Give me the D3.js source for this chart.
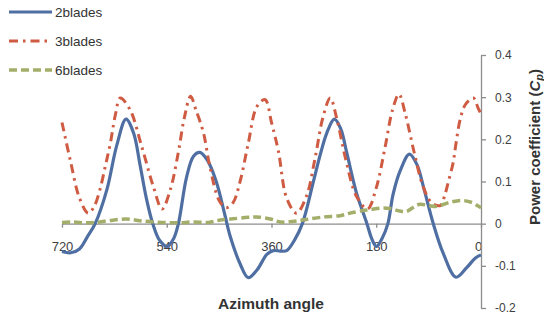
<!DOCTYPE html>
<html>
<head>
<meta charset="utf-8">
<script src="https://cdn.jsdelivr.net/npm/d3@7"></script>
<style>
  html, body { margin: 0; padding: 0; background: #ffffff; }
  svg { display: block; }
  text { font-family: "Liberation Sans", Arial, sans-serif; }
</style>
</head>
<body>
<svg id="chart" width="544" height="325"></svg>
<script>
// ---- data ----
const seriesNames = ["2blades", "3blades", "6blades"];
const xTicks = [720, 540, 360, 180, 0];
const yTicks = [-0.2, -0.1, 0, 0.1, 0.2, 0.3, 0.4];

const angles2 = [720,705,690,676,663,643,626,610,597,586,575,564,552,539,528,520,506,494,483,470,455,440,431,414,400,385,368,357,345,334,320,307,288,276,265,252,241,231,214,196,188,180,170,160,151,139,123,110,99,82,65,43,25,10,0];
const cp2 =     [-0.066,-0.069,-0.06,-0.03,0,0.08,0.185,0.248,0.215,0.14,0.06,0,-0.04,-0.054,-0.035,0,0.11,0.16,0.169,0.15,0.1,0.02,-0.03,-0.095,-0.128,-0.11,-0.073,-0.064,-0.065,-0.064,-0.038,0,0.1,0.165,0.215,0.248,0.225,0.17,0.073,0,-0.035,-0.054,-0.035,0,0.07,0.125,0.165,0.14,0.088,0,-0.07,-0.127,-0.105,-0.082,-0.074];

const angles3 = [720,706,690,675,665,655,645,637,628,620,603,583,563,548,534,520,510,499,490,477,466,450,438,426,414,400,385,371,360,348,334,317,300,285,272,259,248,232,214,195,180,165,152,141,130,115,100,85,70,62,56,48,43,36,27,13,5,0];
const cp3 =     [0.24,0.152,0.061,0.025,0.04,0.08,0.14,0.19,0.26,0.298,0.27,0.183,0.088,0.035,0.08,0.17,0.25,0.302,0.27,0.216,0.136,0.055,0.038,0.05,0.1,0.19,0.278,0.294,0.24,0.171,0.061,0.025,0.065,0.156,0.25,0.298,0.25,0.15,0.065,0.035,0.085,0.18,0.27,0.307,0.26,0.17,0.09,0.05,0.043,0.069,0.1,0.144,0.19,0.246,0.282,0.298,0.274,0.26];

const angles6 = [720,700,680,662,640,610,580,548,520,495,468,450,430,400,385,362,345,320,300,270,242,225,203,191,172,156,140,128,115,105,90,76,55,33,15,5,0];
const cp6 =     [0.003,0.004,0.002,0.003,0.007,0.011,0.006,0.003,0.002,0.004,0.003,0.008,0.011,0.015,0.016,0.011,0.004,0.006,0.01,0.016,0.019,0.025,0.031,0.033,0.037,0.036,0.03,0.029,0.04,0.046,0.043,0.041,0.05,0.055,0.05,0.042,0.038];

// ---- layout ----
const svg = d3.select("#chart");
const x = d3.scaleLinear().domain([720, 0]).range([62, 481]);
const y = d3.scaleLinear().domain([-0.2, 0.4]).range([308, 55]);
const axisColor = "#8c8c8c";
const labelColor = "#404040";

const styles = [
  { color: "#4f6fa3", width: 3.2, dash: null },
  { color: "#cf5b43", width: 3, dash: "9,5,2.5,5" },
  { color: "#a4ae6a", width: 3.5, dash: "8,4" }
];

// x axis (at y = 0)
const xAxis = svg.append("g")
  .attr("transform", `translate(0,${y(0)})`)
  .call(d3.axisBottom(x).tickValues(xTicks).tickSize(4).tickSizeOuter(0).tickFormat(d3.format("d")));
xAxis.select(".domain").attr("stroke", axisColor).attr("stroke-width", 1.3);
xAxis.selectAll(".tick line").attr("stroke", axisColor).attr("stroke-width", 1.3);
xAxis.selectAll(".tick text").attr("y", 18).attr("dy", "0.71em")
  .attr("fill", labelColor).style("font-size", "13px").style("font-family", "Liberation Sans, Arial, sans-serif");
xAxis.selectAll(".tick text").filter(d => d === 0).attr("dx", -3);

// y axis (right)
const fmtY = d => d === 0 ? "0" : d3.format(".1f")(d).replace("\u2212", "-");
const yAxis = svg.append("g")
  .attr("transform", `translate(481,0)`)
  .call(d3.axisRight(y).tickValues(yTicks).tickSize(5).tickSizeOuter(0).tickFormat(fmtY));
yAxis.select(".domain").attr("stroke", axisColor).attr("stroke-width", 1.3);
yAxis.selectAll(".tick line").attr("stroke", axisColor).attr("stroke-width", 1.3);
yAxis.selectAll(".tick text").attr("x", 14)
  .attr("fill", labelColor).style("font-size", "12px").style("font-family", "Liberation Sans, Arial, sans-serif");

// series
const seriesData = [
  angles2.map((a, i) => [a, cp2[i]]),
  angles3.map((a, i) => [a, cp3[i]]),
  angles6.map((a, i) => [a, cp6[i]])
];
const line = d3.line().x(d => x(d[0])).y(d => y(d[1])).curve(d3.curveCatmullRom.alpha(0.5));

seriesData.forEach((data, i) => {
  svg.append("path")
    .datum(data)
    .attr("fill", "none")
    .attr("stroke", styles[i].color)
    .attr("stroke-width", styles[i].width)
    .attr("stroke-dasharray", styles[i].dash)
    .attr("d", line);
});

// legend
const legend = svg.append("g");
seriesNames.forEach((name, i) => {
  const ly = 12 + i * 29;
  legend.append("line")
    .attr("x1", 9).attr("x2", 52).attr("y1", ly).attr("y2", ly)
    .attr("stroke", styles[i].color)
    .attr("stroke-width", styles[i].width)
    .attr("stroke-dasharray", styles[i].dash);
  legend.append("text")
    .attr("x", 55).attr("y", ly).attr("dy", "0.35em")
    .attr("fill", "#333333")
    .style("font-size", "13.5px")
    .text(name);
});

// axis titles
svg.append("text")
  .attr("x", 271).attr("y", 309)
  .attr("text-anchor", "middle")
  .attr("fill", "#333333")
  .style("font-size", "15.5px").style("font-weight", "bold")
  .text("Azimuth angle");

const yt = svg.append("text")
  .attr("transform", "translate(540,147) rotate(-90)")
  .attr("text-anchor", "middle")
  .attr("fill", "#333333")
  .style("font-size", "15px").style("font-weight", "bold");
yt.append("tspan").text("Power coefficient (");
yt.append("tspan").style("font-style", "italic").text("C");
yt.append("tspan").style("font-style", "italic").style("font-size", "11px").attr("dy", 3).text("p");
yt.append("tspan").attr("dy", -3).text(")");
</script>
</body>
</html>
